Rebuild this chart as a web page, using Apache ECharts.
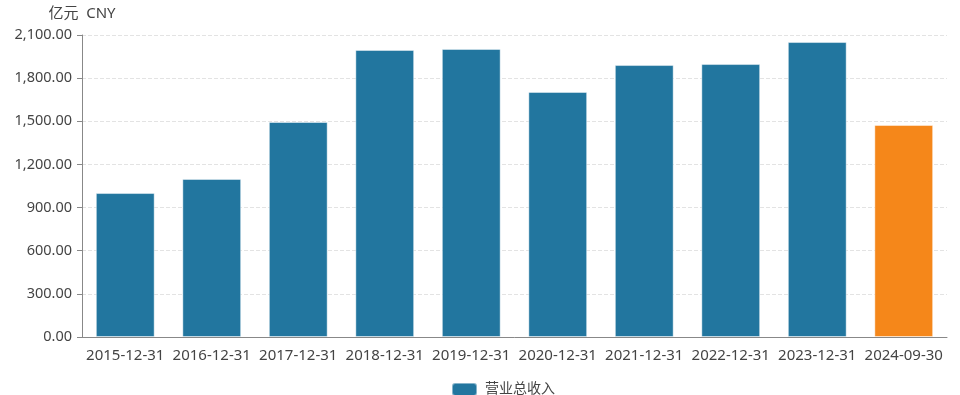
<!DOCTYPE html>
<html><head><meta charset="utf-8">
<script src="https://cdn.jsdelivr.net/npm/echarts@6/dist/echarts.min.js"></script>
<style>html,body{margin:0;padding:0;background:#fff}#c{width:960px;height:395px}</style>
</head><body><div id="c"></div>
<script>
const categories = ['2015-12-31','2016-12-31','2017-12-31','2018-12-31','2019-12-31','2020-12-31','2021-12-31','2022-12-31','2023-12-31','2024-09-30'];
const revenue = [1001, 1099, 1495, 1996, 2003, 1704, 1891, 1898, 2051, 1474];
const seriesName = '营业总收入';
const unitName = '亿元  CNY';
const blue = '#22769f';
const orange = '#f5871a';
const font = '"Noto Sans", "Noto Sans CJK SC", sans-serif';

const chart = echarts.init(document.getElementById('c'));
chart.setOption({
  animation: false,
  textStyle: {fontFamily: font},
  grid: {left: 82, right: 13, top: 35, bottom: 58},
  legend: {
    top: 377, left: 446, itemWidth: 25, itemHeight: 13, itemGap: 10,
    icon: 'roundRect',
    textStyle: {fontSize: 14, color: '#444', fontFamily: font, padding: [0, 0, 0, 3]},
    data: [seriesName]
  },
  xAxis: {
    type: 'category', data: categories,
    axisLine: {lineStyle: {color: '#888'}},
    axisTick: {alignWithLabel: true, length: 6, lineStyle: {color: '#888'}},
    axisLabel: {fontSize: 15, color: '#444', margin: 11, interval: 0, fontFamily: font}
  },
  yAxis: {
    type: 'value', min: 0, max: 2100, interval: 300,
    name: unitName, nameGap: 14, nameTextStyle: {fontSize: 15, color: '#444', align: 'center', fontFamily: font},
    axisLine: {show: true, lineStyle: {color: '#888'}},
    axisTick: {show: true, lineStyle: {color: '#888'}},
    axisLabel: {fontSize: 14.5, color: '#444', margin: 10, fontFamily: font,
      formatter: v => v.toLocaleString('en-US', {minimumFractionDigits: 2, maximumFractionDigits: 2})},
    splitLine: {lineStyle: {type: 'dashed', color: '#e3e3e3'}}
  },
  series: [{
    name: seriesName, type: 'bar', barWidth: '68%',
    itemStyle: {color: blue, borderColor: 'rgba(255,255,255,0.45)', borderWidth: 1},
    data: revenue.map((v, i) => i === revenue.length - 1 ? {value: v, itemStyle: {color: orange}} : v)
  }]
});
</script></body></html>
